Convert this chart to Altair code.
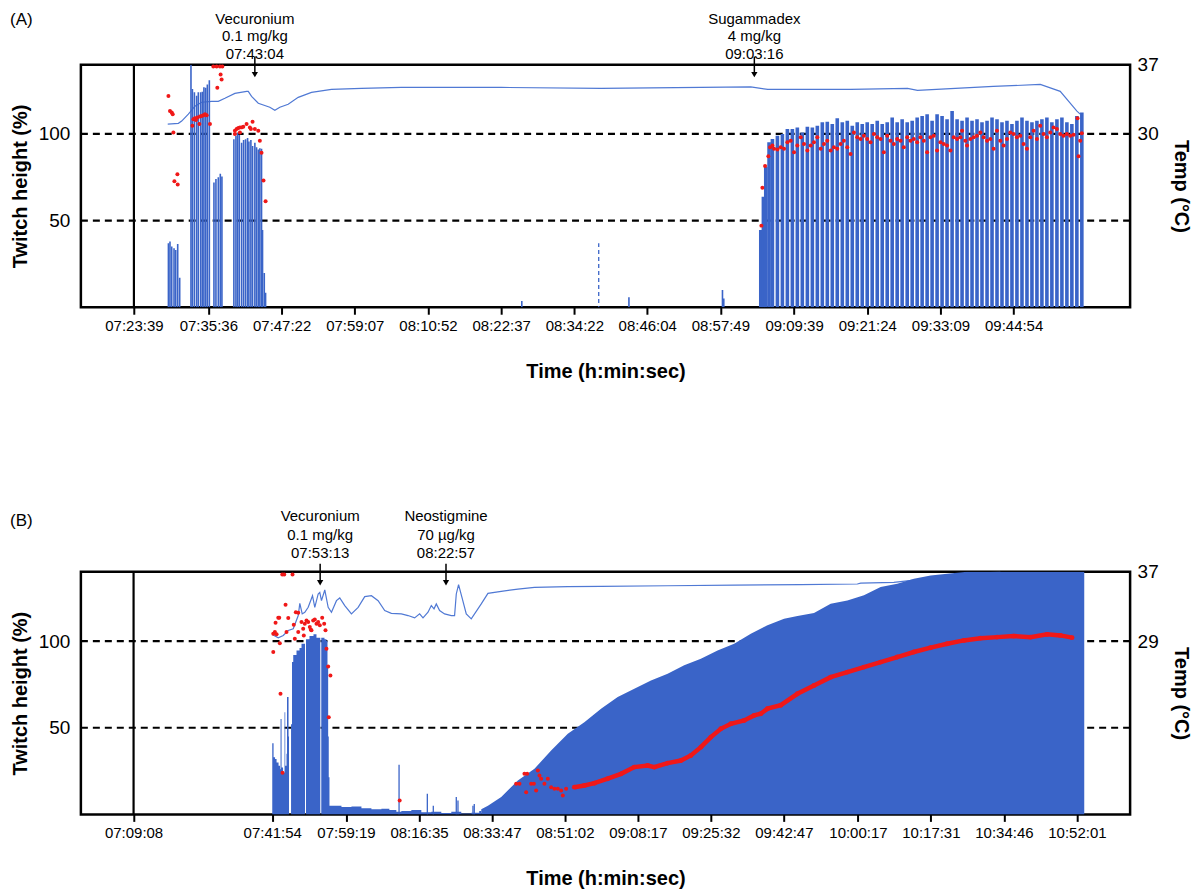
import altair as alt
import pandas as pd

FONT = "Liberation Sans"
BAR_BLUE = "#3a64c8"
TEMP_BLUE = "#5079d4"
DOT_RED = "#f01818"

REF_LEVELS = [50, 100]

# ---------------- Panel A ----------------
A_LABEL = "(A)"
A_TICKS = ["07:23:39", "07:35:36", "07:47:22", "07:59:07", "08:10:52", "08:22:37", "08:34:22",
           "08:46:04", "08:57:49", "09:09:39", "09:21:24", "09:33:09", "09:44:54"]
A_XRANGE = ["07:15:08", "10:03:36"]
A_TEMP_TICKS = [30, 37]
A_EVENTS = ["Vecuronium", "Sugammadex"]
A_DOSES = ["0.1 mg/kg", "4 mg/kg"]
A_EVENT_TIMES = ["07:43:04", "09:03:16"]

# minutes after 07:00:00
A_BAR_MIN = [29.19, 29.44, 29.72, 30.09, 30.36, 30.68, 31.00,
             32.81, 33.04, 33.36, 33.72, 33.99, 34.37, 34.64, 34.89, 35.17, 35.44, 35.76,
             36.50, 36.82, 37.20, 37.52, 37.78,
             39.70, 40.03, 40.30, 40.57, 40.94, 41.26, 41.58, 41.90, 42.11, 42.43, 42.70, 43.07,
             43.34, 43.62, 43.87, 44.14, 44.30, 44.58, 44.79,
             85.93, 103.13, 118.15, 118.36]
A_BAR_PCT = [37, 38, 35, 34, 33, 36.5, 17,
             140, 126, 124, 122, 124, 124, 124.4, 127, 126.6, 128.6, 131,
             72, 74, 75, 77, 75.5,
             97, 99, 100.5, 99.4, 95, 96.5, 97, 97.7, 95.6, 96.5, 93, 95,
             92.3, 91, 91.8, 91.4, 44.6, 19.8, 8.4,
             3.6, 5.7, 10, 5]
A_PROBE_MIN = [98.28]
A_PROBE_PCT = [37]
A_TRAIN_MIN = [124.30, 124.72, 125.10, 125.63, 126.17, 126.97, 127.77, 128.57, 129.37, 130.17,
               130.97, 131.78, 132.58, 133.38, 134.18, 134.98, 135.78, 136.58, 137.39, 138.19,
               138.99, 139.79, 140.59, 141.39, 142.19, 143.00, 143.80, 144.60, 145.40, 146.20,
               147.00, 147.81, 148.61, 149.41, 150.21, 151.01,
               151.81, 152.61, 153.41, 154.21, 155.02, 155.82, 156.62, 157.42, 158.22, 159.02,
               159.82, 160.63, 161.43, 162.23, 163.03, 163.83, 164.63, 165.43, 166.24, 167.04,
               167.84, 168.64, 169.44, 170.24, 171.04, 171.85, 172.65, 173.45, 174.25, 175.05, 175.85]
A_TRAIN_PCT = [44.6, 63.7, 80.9, 95.2, 97.1, 99, 100, 102.8, 102.8, 103.8,
               100.9, 104.2, 103.8, 104.7, 106.7, 107, 105.7, 109, 106.7, 107.6,
               104.7, 106.7, 105.7, 106.7, 105.7, 107.6, 105.7, 106.7, 109.5, 106.7,
               108.5, 106.7, 107.6, 109.5, 110.4, 111.4,
               107.6, 111.4, 110.4, 108.5, 113.3, 108.5, 107.6, 109.5, 107.6, 108.5,
               106.7, 107.6, 109.5, 108.5, 106.7, 107.6, 105.7, 107.6, 109.5, 107.6,
               106.7, 107.6, 108.5, 109.5, 106.7, 108.5, 109.5, 106.7, 105.7, 110.4, 112.4]
A_DOT_MIN = [29.19, 29.44, 29.72, 29.88, 29.99, 30.63, 30.15, 30.68,
             33.20, 33.45, 33.84, 34.25, 34.53, 34.80, 35.06, 35.33, 33.04, 34.16, 35.86, 33.61,
             36.40, 36.93, 37.46, 37.85, 37.57, 37.73, 37.04,
             39.86, 40.14, 40.41, 40.67, 40.94, 41.21, 41.74, 42.27, 42.70, 42.43, 43.07, 43.62,
             39.86, 40.67, 43.87, 44.14, 44.46, 44.79,
             124.40, 124.56, 124.99, 125.52, 125.79, 126.17, 126.43, 126.97, 127.50, 128.04,
             128.57, 129.10, 129.64, 130.17, 130.71, 131.24, 131.78, 132.31, 132.84, 133.38,
             133.91, 134.45, 134.98, 135.52, 136.05, 136.58, 137.12, 137.65, 138.19, 138.72,
             139.26, 139.79, 140.32, 140.86, 141.39, 141.93, 142.46, 143.00, 143.53, 144.06,
             144.60, 145.13, 145.67, 146.20, 146.74, 147.27, 147.81, 148.34, 148.87, 149.41,
             149.94, 150.48, 151.01,
             151.54, 152.08, 152.61, 153.15, 153.68, 154.21, 154.75, 155.28, 155.82, 156.35,
             156.62, 157.15, 157.42, 157.95, 158.49, 159.02, 159.56, 160.09, 160.63, 161.16,
             161.69, 162.23, 162.76, 163.30, 163.83, 164.37, 164.90, 165.43, 165.97, 166.50,
             167.04, 167.57, 168.11, 168.64, 169.17, 169.71, 170.24, 170.78, 171.31, 171.85,
             172.38, 172.91, 173.45, 173.98, 174.52, 175.16, 175.32, 175.59, 175.85]
A_DOT_PCT = [121.9, 113.3, 112.4, 111.4, 100.9, 76.7, 72.7, 70.8,
             108.5, 109.1, 109.5, 110.1, 110.4, 110.8, 111.4, 110.8, 104.7, 105.7, 105.7, 108,
             139, 139, 139, 139, 134.3, 131.5, 126.7,
             101.9, 102.8, 103.4, 103.8, 103.8, 104.2, 105.7, 103.8, 107, 102.8, 102.8, 101.9,
             100, 100.9, 96.1, 89.1, 73.2, 61.2,
             47.1, 69, 81.5, 87.2, 92.3, 93.3, 91.4, 91, 92.3, 91.4,
             95.2, 96.1, 89.5, 93.3, 98.1, 94.2, 90.4, 93.3, 95.2, 98.1,
             91.4, 94.2, 96.1, 90.4, 92.3, 91.4, 94.2, 96.1, 92.3, 88.5,
             100.9, 98.1, 97.1, 99, 97.1, 95.2, 100, 98.1, 97.1, 89.5,
             99, 96.1, 94.2, 97.1, 96.1, 92.3, 98.1, 96.1, 97.1, 95.2,
             98.1, 96.1, 89.5,
             98.1, 99, 90.4, 95.2, 94.2, 93.3, 90.4, 98.1, 97.1, 98.1,
             101.9, 96.1, 93.3, 97.1, 98.1, 99, 100.9, 98.1, 96.1, 97.1,
             91.4, 101.9, 96.1, 93.3, 97.1, 100.9, 100, 98.1, 99, 94.2,
             91.4, 98.1, 101.9, 97.1, 104.7, 100, 98.1, 100.9, 103.8, 102.8,
             100, 99, 100, 99, 99.5, 109, 87.2, 96.1, 100.4]
A_TEMP_MIN = [29.08, 30.79, 31.32, 32.39, 33.45, 34.53, 36.13, 37.20, 38.26, 39.86,
              41.74, 42.01, 42.54, 43.62, 45.47, 46.28, 47.08, 48.42, 50.03, 52.16,
              55.37, 60.17, 66.59, 82.62, 98.65, 114.68, 122.69, 125.42, 138.72, 147.86,
              149.46, 161.64, 169.18, 172.38, 175.06, 175.59]
A_TEMP_C = [31.0, 31.07, 31.3, 32.0, 32.8, 33.2, 33.3, 33.3, 33.6, 34.1,
            34.3, 34.3, 33.8, 33.1, 32.7, 32.4, 32.7, 33.0, 33.7, 34.2,
            34.5, 34.6, 34.7, 34.7, 34.6, 34.7, 34.75, 34.5, 34.5, 34.6,
            34.4, 34.8, 35.0, 34.3, 32.3, 32.0]

# ---------------- Panel B ----------------
B_LABEL = "(B)"
B_TICKS = ["07:09:08", "07:41:54", "07:59:19", "08:16:35", "08:33:47", "08:51:02", "09:08:17",
           "09:25:32", "09:42:47", "10:00:17", "10:17:31", "10:34:46", "10:52:01"]
B_XRANGE = ["06:56:41", "11:04:35"]
B_TEMP_TICKS = [29, 37]
B_EVENTS = ["Vecuronium", "Neostigmine"]
B_DOSES = ["0.1 mg/kg", "70 \u00b5g/kg"]
B_EVENT_TIMES = ["07:53:13", "08:22:57"]

B_BURST_ID = [1] * 15 + [2] * 7 + [3] * 5 + [4] * 25
B_BURST_MIN = [41.90, 42.21, 42.56, 42.92, 43.39, 43.74, 43.86, 44.10, 44.45, 44.80, 44.97, 45.27, 45.39, 45.75, 45.86,
               46.34, 46.57, 46.86, 47.63, 48.34, 48.81, 49.64,
               49.88, 50.70, 51.64, 52.35, 53.25,
               53.48, 54.24, 54.71, 54.95, 55.11, 55.25, 55.42,
               55.89, 58.25, 60.61, 62.97, 65.33, 67.69, 69.57, 71.22, 72.40, 74.76,
               77.12, 79.48, 81.84, 84.20, 86.56, 88.92, 90.80, 91.28]
B_BURST_PCT = [41, 33, 32, 30, 28, 26, 55, 27, 24, 59, 28, 35, 67.7, 45, 45,
               52, 88, 92, 94.6, 96, 98.5, 98,
               101, 103, 104, 102, 103,
               102, 101, 100, 85, 45, 21.5, 5,
               5, 4.2, 4.5, 3.5, 3.0, 3.2, 2.5, 1.5, 2.0, 2.5,
               1.2, 1.5, 0.8, 1.5, 0.5, 1.0, 2.0, 3]
B_REC_MIN = [91.28, 92.86, 96.00, 99.93, 103.85, 107.79, 111.73, 115.64, 119.58, 123.52,
             127.44, 131.38, 135.32, 139.23, 143.17, 147.11, 151.03, 154.97, 158.91, 162.83,
             165.99, 169.90, 173.84, 177.78, 181.70, 185.64, 189.58, 193.50, 197.44, 201.38,
             206.09, 233.75]
B_REC_PCT = [3, 5, 10, 19.6, 26.3, 36.9, 46.5, 53.2, 61, 67.7,
             72.5, 77.3, 81.2, 86, 89.8, 94.6, 98.5, 104.3, 109.1, 112.9,
             114.5, 116.2, 121.6, 123.5, 126.4, 131.2, 133.1, 136, 137.9, 138.9,
             140, 140]
B_SPIKE_MIN = [71.86, 78.54, 79.95, 85.38, 85.78, 89.32, 89.63]
B_SPIKE_PCT = [28.6, 11.9, 5, 10, 8, 5, 6]
B_DOT_MIN = [44.26, 44.73, 46.69, 45.04, 42.14, 42.52, 42.92, 42.68, 43.32, 43.55,
             42.14, 43.69, 45.27, 45.68, 46.98, 47.47, 48.04, 47.23, 48.04, 48.81,
             49.21, 49.59, 49.99, 50.39, 50.77, 51.17, 51.57, 51.95, 52.35, 52.75,
             53.13, 53.70, 54.17, 54.48, 49.35, 51.00, 54.71, 55.11, 55.65, 55.25,
             43.85, 44.32, 72.00,
             99.53, 100.31, 101.49, 102.13, 101.89, 103.07, 103.71, 104.25, 104.65, 105.03,
             105.43, 106.21, 107.01, 107.79, 108.57, 109.37, 110.15, 110.55, 111.33]
B_DOT_PCT = [138.5, 138.5, 138.5, 121, 104.3, 105.2, 103.9, 110.6, 113.5, 113.5,
             93.7, 98.8, 105.2, 113.3, 109.5, 116.7, 116.4, 101.4, 105.2, 111,
             107.2, 110, 111.9, 111, 108.1, 106.2, 111.9, 112.5, 110, 111,
             109.1, 113.5, 110, 106.2, 103.3, 106.6, 95.6, 85.4, 80.2, 56.1,
             69.6, 24, 8,
             17.7, 17.7, 23.4, 23.4, 12.8, 17.7, 17.7, 13.8, 25.3, 22.5,
             20.6, 17.7, 20.6, 15.7, 14.8, 14.8, 13.8, 10.9, 14.8]
B_BAND_MIN = [113.28, 115.64, 118.0, 121.16, 124.30, 127.44, 130.60, 132.16, 135.32, 138.45,
              140.81, 143.17, 145.53, 147.89, 150.25, 153.39, 155.75, 157.33, 158.91, 162.05,
              165.99, 169.90, 173.84, 177.78, 181.70, 185.64, 189.58, 193.50, 197.44, 201.38,
              205.30, 209.24, 213.17, 217.09, 221.03, 224.97, 228.11, 230.86]
B_BAND_PCT = [15.7, 16.7, 18, 20.6, 23.4, 27.3, 28.2, 27.3, 29.6, 31.1,
              34, 38.8, 44.6, 49.4, 52.3, 54.2, 57.1, 58.1, 61, 63,
              69.6, 74.4, 79.2, 82.1, 85, 87.9, 90.8, 93.7, 96.2, 98.5,
              100.4, 101.7, 102.3, 102.9, 102.3, 103.9, 103.3, 102]
B_TEMP_MIN = [41.90, 43.32, 44.50, 45.68, 46.86, 48.04, 48.41, 48.98, 49.59, 50.39,
              51.41, 51.95, 52.75, 53.13, 53.53, 54.31, 55.11, 55.89, 57.07, 57.85,
              59.03, 60.61, 62.19, 63.75, 65.33, 66.91, 68.47, 70.04, 72.40, 73.98,
              75.54, 76.72, 77.52, 78.70, 79.48, 80.12, 80.66, 81.44, 82.62, 84.20,
              84.98, 85.38, 85.92, 86.72, 87.74, 88.92, 91.28, 92.86, 96.00, 99.93,
              103.85, 111.73, 119.58, 135.32, 151.03, 166.76, 180.14, 180.92, 188.77, 206.09,
              213.94]
B_TEMP_C = [29.77, 29.39, 29.65, 30.23, 30.42, 31.95, 33.36, 32.14, 32.33, 32.9,
            34.24, 32.9, 34.44, 34.62, 33.67, 34.9, 32.9, 32.33, 33.67, 33.98,
            33.1, 32.14, 32.9, 34.13, 34.24, 33.67, 32.52, 32.21, 32.14, 31.95,
            31.68, 32.14, 31.68, 32.33, 33.1, 32.72, 33.29, 32.52, 32.14, 31.95,
            31.95, 34.44, 35.51, 34.05, 32.14, 31.57, 33.29, 34.51, 34.74, 35.01,
            35.2, 35.28, 35.31, 35.39, 35.47, 35.51, 35.59, 35.7, 35.77, 36.73,
            37]


def secs(hms):
    h, m, s = (int(p) for p in hms.split(":"))
    return h * 3600 + m * 60 + s


def tsec(mins):
    return [25200 + 60 * v for v in mins]


def x_enc(ticks, xrange):
    return alt.X(
        "t:Q",
        scale=alt.Scale(domain=[secs(xrange[0]), secs(xrange[1])], nice=False, zero=False),
        axis=alt.Axis(values=[secs(v) for v in ticks],
                      labelExpr="utcFormat(datum.value * 1000, '%H:%M:%S')",
                      title="Time (h:min:sec)", titleFontSize=20, titleFontWeight="bold",
                      titleColor="black", titlePadding=28, labelFontSize=15, labelPadding=4,
                      labelColor="black", tickColor="black", tickWidth=2, tickSize=7,
                      domain=False, grid=False, labelOverlap=False, labelFlush=False),
    )


def y_pct(axis=False):
    ax = None
    if axis:
        ax = alt.Axis(orient="left", values=REF_LEVELS, title="Twitch height (%)",
                      titleFontSize=20, titleFontWeight="bold", titleColor="black",
                      titlePadding=8, labelFontSize=19, labelColor="black", labelPadding=11,
                      ticks=False, domain=False, grid=False)
    return alt.Y("v:Q", scale=alt.Scale(domain=[0, 140], nice=False, zero=False), axis=ax)


def y_temp(dom, ticks):
    return alt.Y("c:Q", scale=alt.Scale(domain=dom, nice=False, zero=False),
                 axis=alt.Axis(orient="right", values=ticks, title="Temp (\u00b0C)",
                               titleAngle=90, titleFontSize=20, titleFontWeight="bold",
                               titleColor="black", titlePadding=12, labelFontSize=19,
                               labelColor="black", labelPadding=7, ticks=False,
                               domain=False, grid=False))


def common_layers(label, ticks, xrange, temp_dom, temp_ticks, temp_min, temp_c,
                  events, doses, ev_times, text_top, line_h, arrow_top, arrow_bot, label_top):
    X = x_enc(ticks, xrange)
    ref = alt.Chart(pd.DataFrame({"v": REF_LEVELS})).mark_rule(
        color="black", strokeDash=[7, 5], strokeWidth=2.2).encode(y=y_pct(True))
    vline = alt.Chart(pd.DataFrame({"t": [secs(ticks[0])]})).mark_rule(
        color="black", strokeWidth=2.2).encode(x=X)
    temp = alt.Chart(pd.DataFrame({"t": tsec(temp_min), "c": temp_c})).mark_line(
        color=TEMP_BLUE, strokeWidth=1.2, clip=True).encode(x=X, y=y_temp(temp_dom, temp_ticks))
    ann = pd.DataFrame({"t": [secs(s) for s in ev_times],
                        "txt": [f"{e}\n{d}\n{s}" for e, d, s in zip(events, doses, ev_times)]})
    txt = alt.Chart(ann).mark_text(fontSize=15, lineBreak="\n", lineHeight=line_h, align="center",
                                   baseline="top", color="black").encode(
        x=X, y=alt.value(text_top), text="txt:N")
    shaft = alt.Chart(ann).mark_rule(color="black", strokeWidth=1.5).encode(
        x=X, y=alt.value(arrow_top), y2=alt.value(arrow_bot))
    head = alt.Chart(ann).mark_point(shape="triangle-down", size=40, filled=True,
                                     color="black", opacity=1).encode(x=X, y=alt.value(arrow_bot + 2))
    lab = alt.Chart(pd.DataFrame({"lab": [label]})).mark_text(
        fontSize=17, align="left", baseline="top", color="black").encode(
        x=alt.value(-71), y=alt.value(label_top), text="lab:N")
    return X, ref, vline, temp, [txt, shaft, head, lab]


# ----- Panel A -----
XA, refA, vlineA, tempA, annA = common_layers(
    A_LABEL, A_TICKS, A_XRANGE, [12.5, 37], A_TEMP_TICKS, A_TEMP_MIN, A_TEMP_C,
    A_EVENTS, A_DOSES, A_EVENT_TIMES, -53, 17.5, -8, 8, -53)
barsA = alt.Chart(pd.DataFrame({"t": tsec(A_BAR_MIN), "v": A_BAR_PCT})).mark_rule(
    color=BAR_BLUE, strokeWidth=1.6, clip=True).encode(x=XA, y=y_pct(), y2=alt.datum(0))
probeA = alt.Chart(pd.DataFrame({"t": tsec(A_PROBE_MIN), "v": A_PROBE_PCT})).mark_rule(
    color=BAR_BLUE, strokeWidth=1.3, strokeDash=[4, 3], clip=True).encode(
    x=XA, y=y_pct(), y2=alt.datum(0))
trainA = alt.Chart(pd.DataFrame({"t": tsec(A_TRAIN_MIN), "v": A_TRAIN_PCT})).mark_rule(
    color=BAR_BLUE, strokeWidth=3.6, clip=True).encode(x=XA, y=y_pct(), y2=alt.datum(0))
dotsA = alt.Chart(pd.DataFrame({"t": tsec(A_DOT_MIN), "v": A_DOT_PCT})).mark_circle(
    color=DOT_RED, size=16, opacity=1).encode(x=XA, y=y_pct())

panelA = alt.layer(refA, vlineA, tempA, barsA, probeA, trainA, dotsA, *annA).resolve_scale(
    y="independent").properties(width=1051, height=243)

# ----- Panel B -----
XB, refB, vlineB, tempB, annB = common_layers(
    B_LABEL, B_TICKS, B_XRANGE, [9, 37], B_TEMP_TICKS, B_TEMP_MIN, B_TEMP_C,
    B_EVENTS, B_DOSES, B_EVENT_TIMES, -62.5, 18.5, -8, 9, -58.5)
burstB = alt.Chart(pd.DataFrame({"seg": B_BURST_ID, "t": tsec(B_BURST_MIN), "v": B_BURST_PCT})).mark_area(
    color=BAR_BLUE, interpolate="step-after", clip=True, opacity=1).encode(
    x=XB, y=y_pct(), y2=alt.datum(0), detail="seg:N")
recB = alt.Chart(pd.DataFrame({"t": tsec(B_REC_MIN), "v": B_REC_PCT})).mark_area(
    color=BAR_BLUE, clip=True, opacity=1).encode(x=XB, y=y_pct(), y2=alt.datum(0))
spikeB = alt.Chart(pd.DataFrame({"t": tsec(B_SPIKE_MIN), "v": B_SPIKE_PCT})).mark_rule(
    color=BAR_BLUE, strokeWidth=1.3, clip=True).encode(x=XB, y=y_pct(), y2=alt.datum(0))
dotsB = alt.Chart(pd.DataFrame({"t": tsec(B_DOT_MIN), "v": B_DOT_PCT})).mark_circle(
    color=DOT_RED, size=16, opacity=1).encode(x=XB, y=y_pct())
bandB_df = pd.DataFrame({"t": tsec(B_BAND_MIN), "v": B_BAND_PCT})
bandLineB = alt.Chart(bandB_df).mark_line(color=DOT_RED, strokeWidth=4.5).encode(x=XB, y=y_pct())
bandDotB = alt.Chart(bandB_df).mark_circle(color=DOT_RED, size=24, opacity=1).encode(x=XB, y=y_pct())

panelB = alt.layer(refB, vlineB, tempB, burstB, recB, spikeB, dotsB, bandLineB, bandDotB,
                   *annB).resolve_scale(y="independent").properties(width=1051, height=243)

chart = alt.vconcat(panelA, panelB, spacing=125).properties(padding=0).configure(
    font=FONT).configure_view(stroke="black", strokeWidth=2.5)

chart.save("out.html", embed_options={"renderer": "svg", "actions": False})
